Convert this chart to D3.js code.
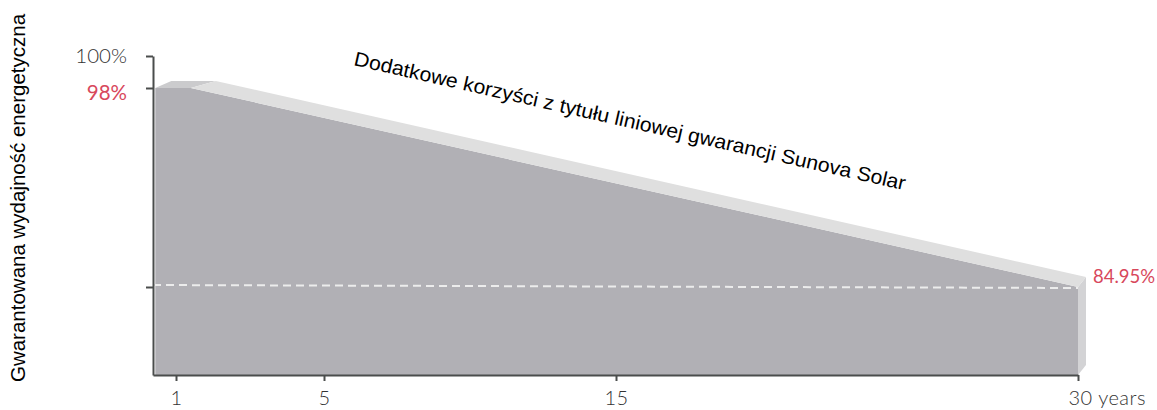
<!DOCTYPE html>
<html>
<head>
<meta charset="utf-8">
<script src="https://cdn.jsdelivr.net/npm/d3@7"></script>
<style>
  body { margin: 0; background: #fff; }
  svg { display: block; }
</style>
</head>
<body>
<svg id="chart" width="1157" height="410"></svg>
<script>
// guaranteed output, front top edge of the block (year, %)
var years = [0.1, 1.4, 30];
var values = [98, 98, 84.95];

var yTicks = [100, 98, 84.95];
var xTicks = [1, 5, 15, 30];

var title = "Dodatkowe korzyści z tytułu liniowej gwarancji Sunova Solar";
var yTitle = "Gwarantowana wydajność energetyczna";

var data = years.map(function(d, i) { return {year: d, value: values[i]}; });

var svg = d3.select('#chart');

// the picture is not drawn to scale, so the scales are piecewise
var x = d3.scaleLinear().domain([0, 1, 5, 15, 30]).range([153, 176, 324, 616, 1078]);
var y = d3.scaleLinear().domain([79, 84.95, 98, 100]).range([375, 287, 88, 56]);

var front = data.map(function(d) { return [x(d.year), y(d.value)]; });
// fake 3d depth, one offset per front point
var depth = [[16, -7], [25, -7], [8, -10]];
var back = front.map(function(p, i) { return [p[0] + depth[i][0], p[1] + depth[i][1]]; });

var line = d3.line();

// front face
var area = d3.area()
  .x(function(d) { return x(d.year); })
  .y0(y(79))
  .y1(function(d) { return y(d.value); });

svg.append('path')
  .datum(data)
  .attr('d', area)
  .attr('fill', '#b1b0b5');

// right side face
var last = front.length - 1;
svg.append('path')
  .attr('d', line([front[last], back[last], [back[last][0], y(79) + depth[last][1]], [front[last][0], y(79)]]) + 'Z')
  .attr('fill', '#d3d3d5');

// top faces: flat first year part, then sloped part
svg.append('path')
  .attr('d', line([front[0], back[0], back[1], front[1]]) + 'Z')
  .attr('fill', '#cbcbcd');
svg.append('path')
  .attr('d', line([front[1], back[1], back[2], front[2]]) + 'Z')
  .attr('fill', '#dfdfdf');

// dashed guarantee line
svg.append('line')
  .attr('x1', x(0)).attr('x2', front[last][0])
  .attr('y1', y(84.95) - 2).attr('y2', y(84.95) + 1)
  .attr('stroke', '#ececec')
  .attr('stroke-width', 2)
  .attr('stroke-dasharray', '8,5');

// axes
var yAxis = svg.append('g')
  .attr('transform', 'translate(' + x(0) + ',0)')
  .call(d3.axisLeft(y).tickValues(yTicks).tickSize(7).tickSizeOuter(0).tickFormat(''));

var xAxis = svg.append('g')
  .attr('transform', 'translate(0,' + y(79) + ')')
  .call(d3.axisBottom(x).tickValues(xTicks).tickSize(6).tickSizeOuter(0).tickPadding(10)
    .tickFormat(function(d) { return d === 30 ? '30 years' : d; }));

svg.selectAll('.domain, .tick line')
  .attr('stroke', '#4a4d4c')
  .attr('stroke-width', 2);

xAxis.selectAll('text')
  .attr('font-family', 'Lato, sans-serif')
  .attr('font-weight', 300)
  .attr('font-size', 20)
  .attr('letter-spacing', 0.5)
  .attr('fill', '#333');

// "30" sits on the tick and "years" runs to the right
xAxis.selectAll('.tick')
  .filter(function(d) { return d === 30; })
  .select('text')
  .attr('text-anchor', 'start')
  .attr('x', -10);

// value labels
svg.append('text')
  .attr('x', 127).attr('y', y(100))
  .attr('dy', '0.35em')
  .attr('text-anchor', 'end')
  .attr('font-family', 'Lato, sans-serif').attr('font-weight', 300)
  .attr('font-size', 20.5)
  .attr('fill', '#333')
  .text('100%');

svg.append('text')
  .attr('x', 127).attr('y', y(98) + 5)
  .attr('dy', '0.35em')
  .attr('text-anchor', 'end')
  .attr('font-family', 'Lato, sans-serif').attr('font-weight', 400)
  .attr('font-size', 20.5)
  .attr('fill', '#d8485c')
  .text('98%');

svg.append('text')
  .attr('x', 1093).attr('y', y(84.95) - 10)
  .attr('dy', '0.35em')
  .attr('font-family', 'Lato, sans-serif').attr('font-weight', 400)
  .attr('font-size', 18.5)
  .attr('fill', '#d8485c')
  .text('84.95%');

// titles
svg.append('text')
  .attr('transform', 'translate(353,65) rotate(12.8)')
  .attr('font-family', '"Liberation Sans", Arial, sans-serif')
  .attr('font-size', 20)
  .attr('textLength', 565)
  .attr('lengthAdjust', 'spacingAndGlyphs')
  .attr('fill', '#000')
  .text(title);

svg.append('text')
  .attr('transform', 'translate(25,198) rotate(-90)')
  .attr('text-anchor', 'middle')
  .attr('font-family', '"Liberation Sans", Arial, sans-serif')
  .attr('font-size', 20.5)
  .attr('fill', '#000')
  .text(yTitle);
</script>
</body>
</html>
